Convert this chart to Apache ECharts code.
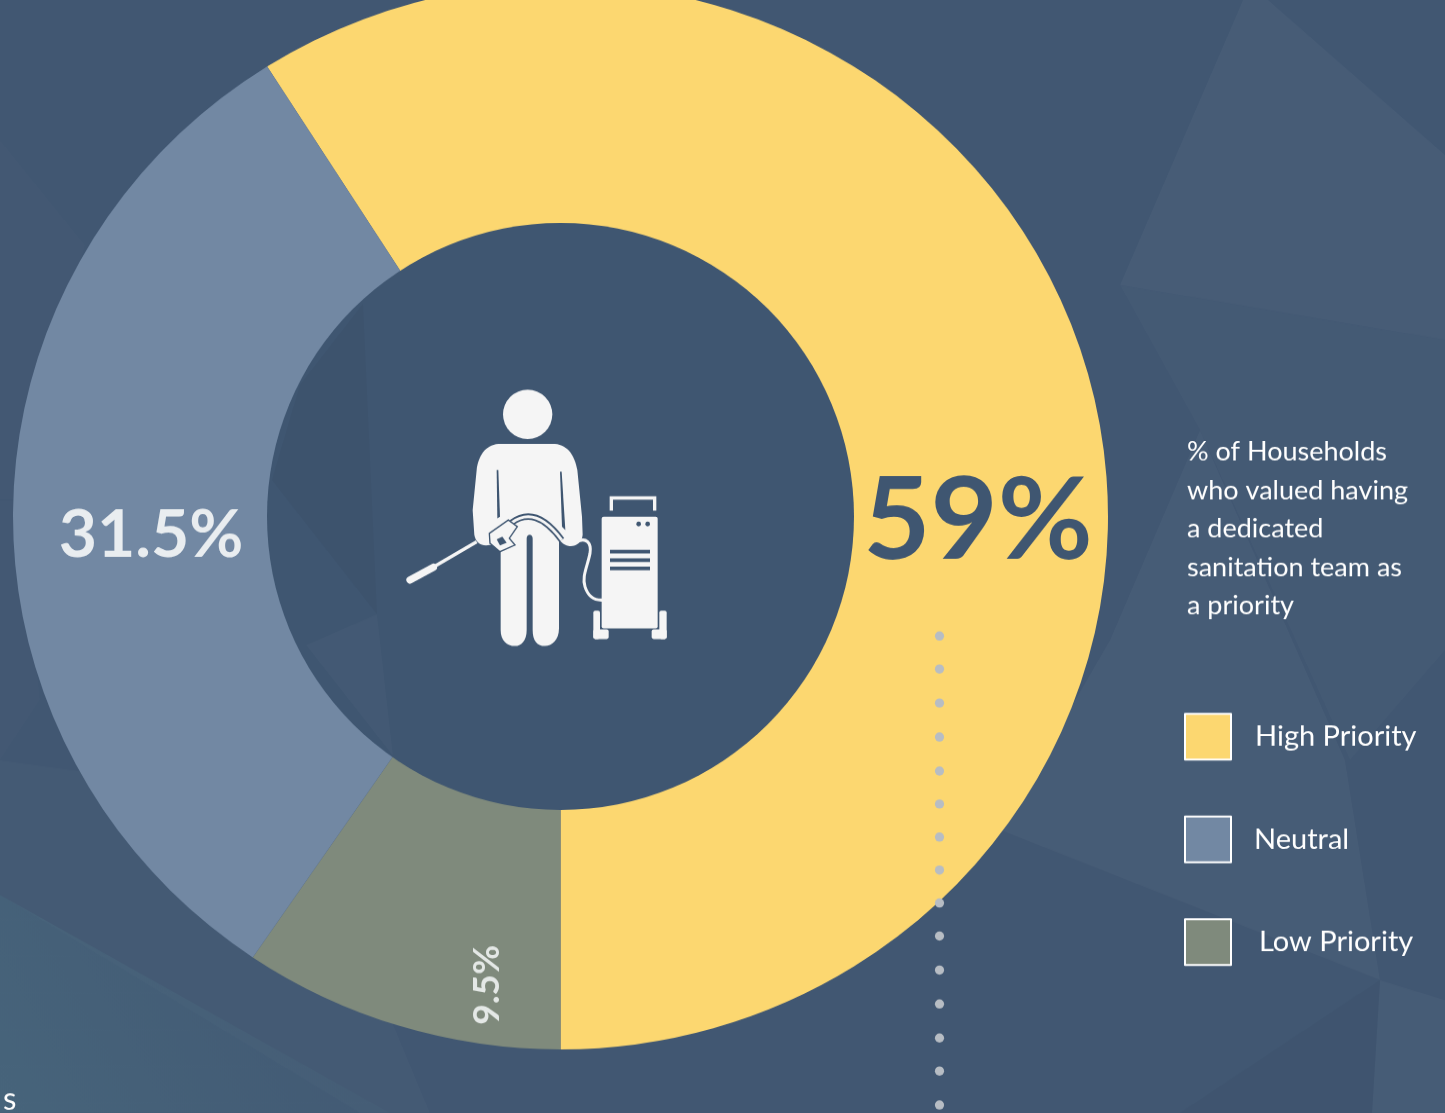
<!DOCTYPE html>
<html>
<head>
<meta charset="utf-8">
<title>Household sanitation priority</title>
<script src="https://cdn.jsdelivr.net/npm/echarts@6/dist/echarts.min.js"></script>
<style>
  html, body { margin: 0; padding: 0; background: #415772; overflow: hidden; }
  #page { width: 1445px; height: 1113px; overflow: hidden; }
  /* The ring is slightly wider than tall, so the whole canvas is flattened vertically. */
  #chart { width: 1445px; height: 1144px; transform: scaleY(0.9735); transform-origin: 0 0; }
</style>
</head>
<body>
<div id="page"><div id="chart"></div></div>
<script>
const categories = ['High Priority', 'Neutral', 'Low Priority'];
const shares = [59, 31.5, 9.5];
const sliceColors = ['#FCD770', '#7288A3', '#7F8A7C'];
// Clockwise order of the slices round the ring, as indexes into categories
const ringOrder = [0, 2, 1];
const captionLines = ['% of Households', 'who valued having', 'a dedicated', 'sanitation team as', 'a priority'];
// Legend text padding [top, right, bottom, left] for each entry
const legendTextPadding = [[2, 0, 0, 19], [6, 0, 0, 18], [10, 0, 0, 23]];

const squash = 0.9735;
const toCanvasY = y => y / squash;
const panel = '#3F5671';
const iconWhite = '#F5F5F5';

// Faint background facets: [points, fill, opacity]
const facets = [
  [[[1243, 0], [1268, 0], [1445, 155], [1445, 340], [1120, 285]], '#ffffff', 0.035],
  [[[1120, 285], [1445, 340], [1445, 650], [1350, 760], [1200, 430]], '#ffffff', 0.02],
  [[[1110, 640], [1200, 430], [1345, 760], [1380, 980], [1000, 830]], '#ffffff', 0.03],
  [[[1380, 980], [1445, 1000], [1445, 1113], [1372, 1113]], '#ffffff', 0.03],
  [[[1380, 980], [1180, 1113], [1372, 1113]], '#000000', 0.025],
  [[[0, 760], [300, 800], [430, 1113], [360, 1113], [0, 895]], '#ffffff', 0.018],
  [[[0, 140], [85, 245], [20, 500], [0, 500]], '#ffffff', 0.012],
  [[[0, 500], [20, 500], [40, 700], [0, 760]], '#ffffff', 0.012]
];
// Slightly lighter and darker panes inside the ring's hole
const holeFacets = [
  [[[363, 304], [377, 614], [272, 480], [300, 385]], '#000000', 0.03],
  [[[377, 614], [306, 645], [393, 756]], '#ffffff', 0.022]
];
// Dotted leader under the headline figure
const leaderDotRows = [636, 669, 703, 737, 771, 804, 837, 870, 903, 936, 970, 1004, 1038, 1071, 1105];

// Worker with pressure washer, drawn on a 3x grid
const bodyPath = 'M355,222 L525,222 C565,225 585,260 592,300 L606,440 L608,495 C605,520 585,532 565,528 ' +
  'C550,524 542,516 537,505 L537,775 C537,810 515,828 495,828 C470,828 458,810 458,780 L458,505 ' +
  'C458,490 440,490 440,505 L440,780 C440,810 425,828 405,828 C380,828 362,810 362,780 L362,530 ' +
  'L330,525 C305,530 288,520 283,495 L278,420 L290,300 C295,260 315,225 355,222 Z';
const waistHosePath = 'M395,458 C440,425 490,435 545,510';
const machineHosePath = 'M590,515 C620,500 635,520 630,550 C622,590 605,620 615,650 C625,682 645,692 670,690';

echarts.graphic.registerShape('workerBody', echarts.graphic.extendPath(bodyPath));
echarts.graphic.registerShape('waistHose', echarts.graphic.extendPath(waistHosePath));
echarts.graphic.registerShape('machineHose', echarts.graphic.extendPath(machineHosePath));

const iconParts = [
  { type: 'circle', shape: { cx: 443, cy: 133, r: 74 }, style: { fill: iconWhite } },
  { type: 'workerBody', style: { fill: iconWhite } },
  // gaps between arms and torso
  { type: 'polygon', shape: { points: [[350, 300], [355, 300], [360, 440], [352, 445]] }, style: { fill: panel } },
  { type: 'polygon', shape: { points: [[540, 305], [545, 305], [556, 480], [546, 470]] }, style: { fill: panel } },
  // hose across the waist
  { type: 'waistHose', style: { fill: 'none', stroke: panel, lineWidth: 19 } },
  { type: 'waistHose', style: { fill: 'none', stroke: iconWhite, lineWidth: 9 } },
  // trigger gun
  { type: 'polygon', shape: { points: [[328, 490], [385, 450], [412, 470], [388, 505], [405, 525], [360, 545], [330, 520]] }, style: { fill: iconWhite, stroke: panel, lineWidth: 4 } },
  { type: 'polygon', shape: { points: [[350, 508], [367, 500], [380, 518], [360, 526]] }, style: { fill: panel } },
  // lance
  { type: 'line', shape: { x1: 290, y1: 515, x2: 150, y2: 597 }, style: { stroke: iconWhite, lineWidth: 10 } },
  { type: 'line', shape: { x1: 160, y1: 592, x2: 90, y2: 630 }, style: { stroke: iconWhite, lineWidth: 22, lineCap: 'round' } },
  // hose to the machine
  { type: 'machineHose', style: { fill: 'none', stroke: iconWhite, lineWidth: 9 } },
  // machine body, handle and wheels
  { type: 'rect', shape: { x: 665, y: 440, width: 168, height: 335, r: 6 }, style: { fill: iconWhite } },
  { type: 'polyline', shape: { points: [[694, 422], [694, 384], [824, 384], [824, 422]] }, style: { stroke: iconWhite, lineWidth: 10, fill: 'none' } },
  { type: 'rect', shape: { x: 640, y: 722, width: 20, height: 85, r: 6 }, style: { fill: iconWhite } },
  { type: 'rect', shape: { x: 640, y: 778, width: 46, height: 29, r: 6 }, style: { fill: iconWhite } },
  { type: 'rect', shape: { x: 838, y: 722, width: 22, height: 85, r: 6 }, style: { fill: iconWhite } },
  { type: 'rect', shape: { x: 815, y: 778, width: 45, height: 29, r: 6 }, style: { fill: iconWhite } },
  { type: 'rect', shape: { x: 690, y: 539, width: 120, height: 11 }, style: { fill: panel } },
  { type: 'rect', shape: { x: 690, y: 565, width: 120, height: 11 }, style: { fill: panel } },
  { type: 'rect', shape: { x: 690, y: 590, width: 120, height: 11 }, style: { fill: panel } },
  { type: 'circle', shape: { cx: 776, cy: 462, r: 7 }, style: { fill: panel } },
  { type: 'circle', shape: { cx: 803, cy: 462, r: 7 }, style: { fill: panel } }
];

// Each slice label sits at its own spot in the ring
const labelSpots = [
  { x: 978, y: 522, size: 116, weight: 700, color: '#3F5671', rotate: 0 },
  { x: 151, y: 536, size: 66, weight: 700, color: '#E9EDF0', rotate: 0 },
  { x: 487, y: 985, size: 37, weight: 700, color: '#E4E8E6', rotate: 90 }
];

const sliceData = ringOrder.map(i => ({
  name: categories[i],
  value: shares[i],
  itemStyle: { color: sliceColors[i] },
  label: {
    fontSize: labelSpots[i].size,
    fontWeight: labelSpots[i].weight,
    color: labelSpots[i].color,
    rotate: labelSpots[i].rotate
  }
}));

// The high-priority slice runs clockwise and ends at the ring's lowest point
const startAngle = 90 - (180 - shares[0] * 3.6);

// Graphic groups do not pass z down, so each leaf is raised above the ring here
const raised = el => el.children
  ? { ...el, children: el.children.map(raised) }
  : { ...el, z: 50 };

const legendFont = { fontFamily: 'Lato', fontWeight: 400, fontSize: 29, color: '#FFFFFF' };

const chart = echarts.init(document.getElementById('chart'));
chart.setOption({
  animation: false,
  backgroundColor: '#415772',
  title: {
    text: captionLines.join('\n'),
    left: 1182,
    top: toCanvasY(428),
    textStyle: { fontFamily: 'Lato', fontWeight: 400, fontSize: 27, lineHeight: 39.5, color: '#FFFFFF' }
  },
  legend: {
    data: categories.map((name, i) => ({
      name,
      textStyle: { ...legendFont, padding: legendTextPadding[i] }
    })),
    orient: 'vertical',
    left: 1179,
    top: toCanvasY(708),
    icon: 'rect',
    itemWidth: 46,
    itemHeight: 47,
    itemGap: 56.5,
    selectedMode: false,
    itemStyle: { borderColor: '#FFFFFF', borderWidth: 2 },
    textStyle: legendFont
  },
  series: [{
    type: 'pie',
    center: [560.5, toCanvasY(516.5)],
    radius: [250, 547.5],
    startAngle,
    clockwise: true,
    silent: true,
    label: { show: true, position: 'inside', fontFamily: 'Lato', formatter: p => p.value + '%' },
    labelLine: { show: false },
    labelLayout: p => {
      const spot = labelSpots[ringOrder[p.dataIndex]];
      return { x: spot.x, y: toCanvasY(spot.y), align: 'center', verticalAlign: 'middle' };
    },
    data: sliceData
  }],
  graphic: [
    {
      type: 'group', x: 0, y: 0, scaleY: 1 / squash, silent: true,
      children: facets.map(([points, fill, opacity]) => ({
        type: 'polygon', z: -10, shape: { points }, style: { fill, opacity }
      })).concat({
        type: 'polygon', z: -10,
        shape: { points: [[0, 895], [390, 1113], [0, 1113]] },
        style: {
          fill: new echarts.graphic.LinearGradient(0, 1, 1, 0, [
            { offset: 0, color: 'rgba(82,125,140,0.35)' },
            { offset: 1, color: 'rgba(82,125,140,0)' }
          ])
        }
      })
    },
    raised({
      type: 'group', x: 0, y: 0, scaleY: 1 / squash, silent: true,
      children: [
        { type: 'circle', shape: { cx: 560.5, cy: 516.5, r: 293.5 }, style: { fill: panel } },
        ...holeFacets.map(([points, fill, opacity]) => ({
          type: 'polygon', shape: { points }, style: { fill, opacity }
        })),
        { type: 'group', x: 380, y: 370, scaleX: 1 / 3, scaleY: 1 / 3, children: iconParts },
        ...leaderDotRows.map(cy => ({
          type: 'circle', shape: { cx: 939.5, cy, r: 4.6 }, style: { fill: '#B7BDC4' }
        })),
        { type: 'text', x: 3, y: 1084, style: { text: 's', fontFamily: 'Lato', fontSize: 31, fill: '#FFFFFF' } }
      ]
    })
  ]
});
</script>
</body>
</html>
